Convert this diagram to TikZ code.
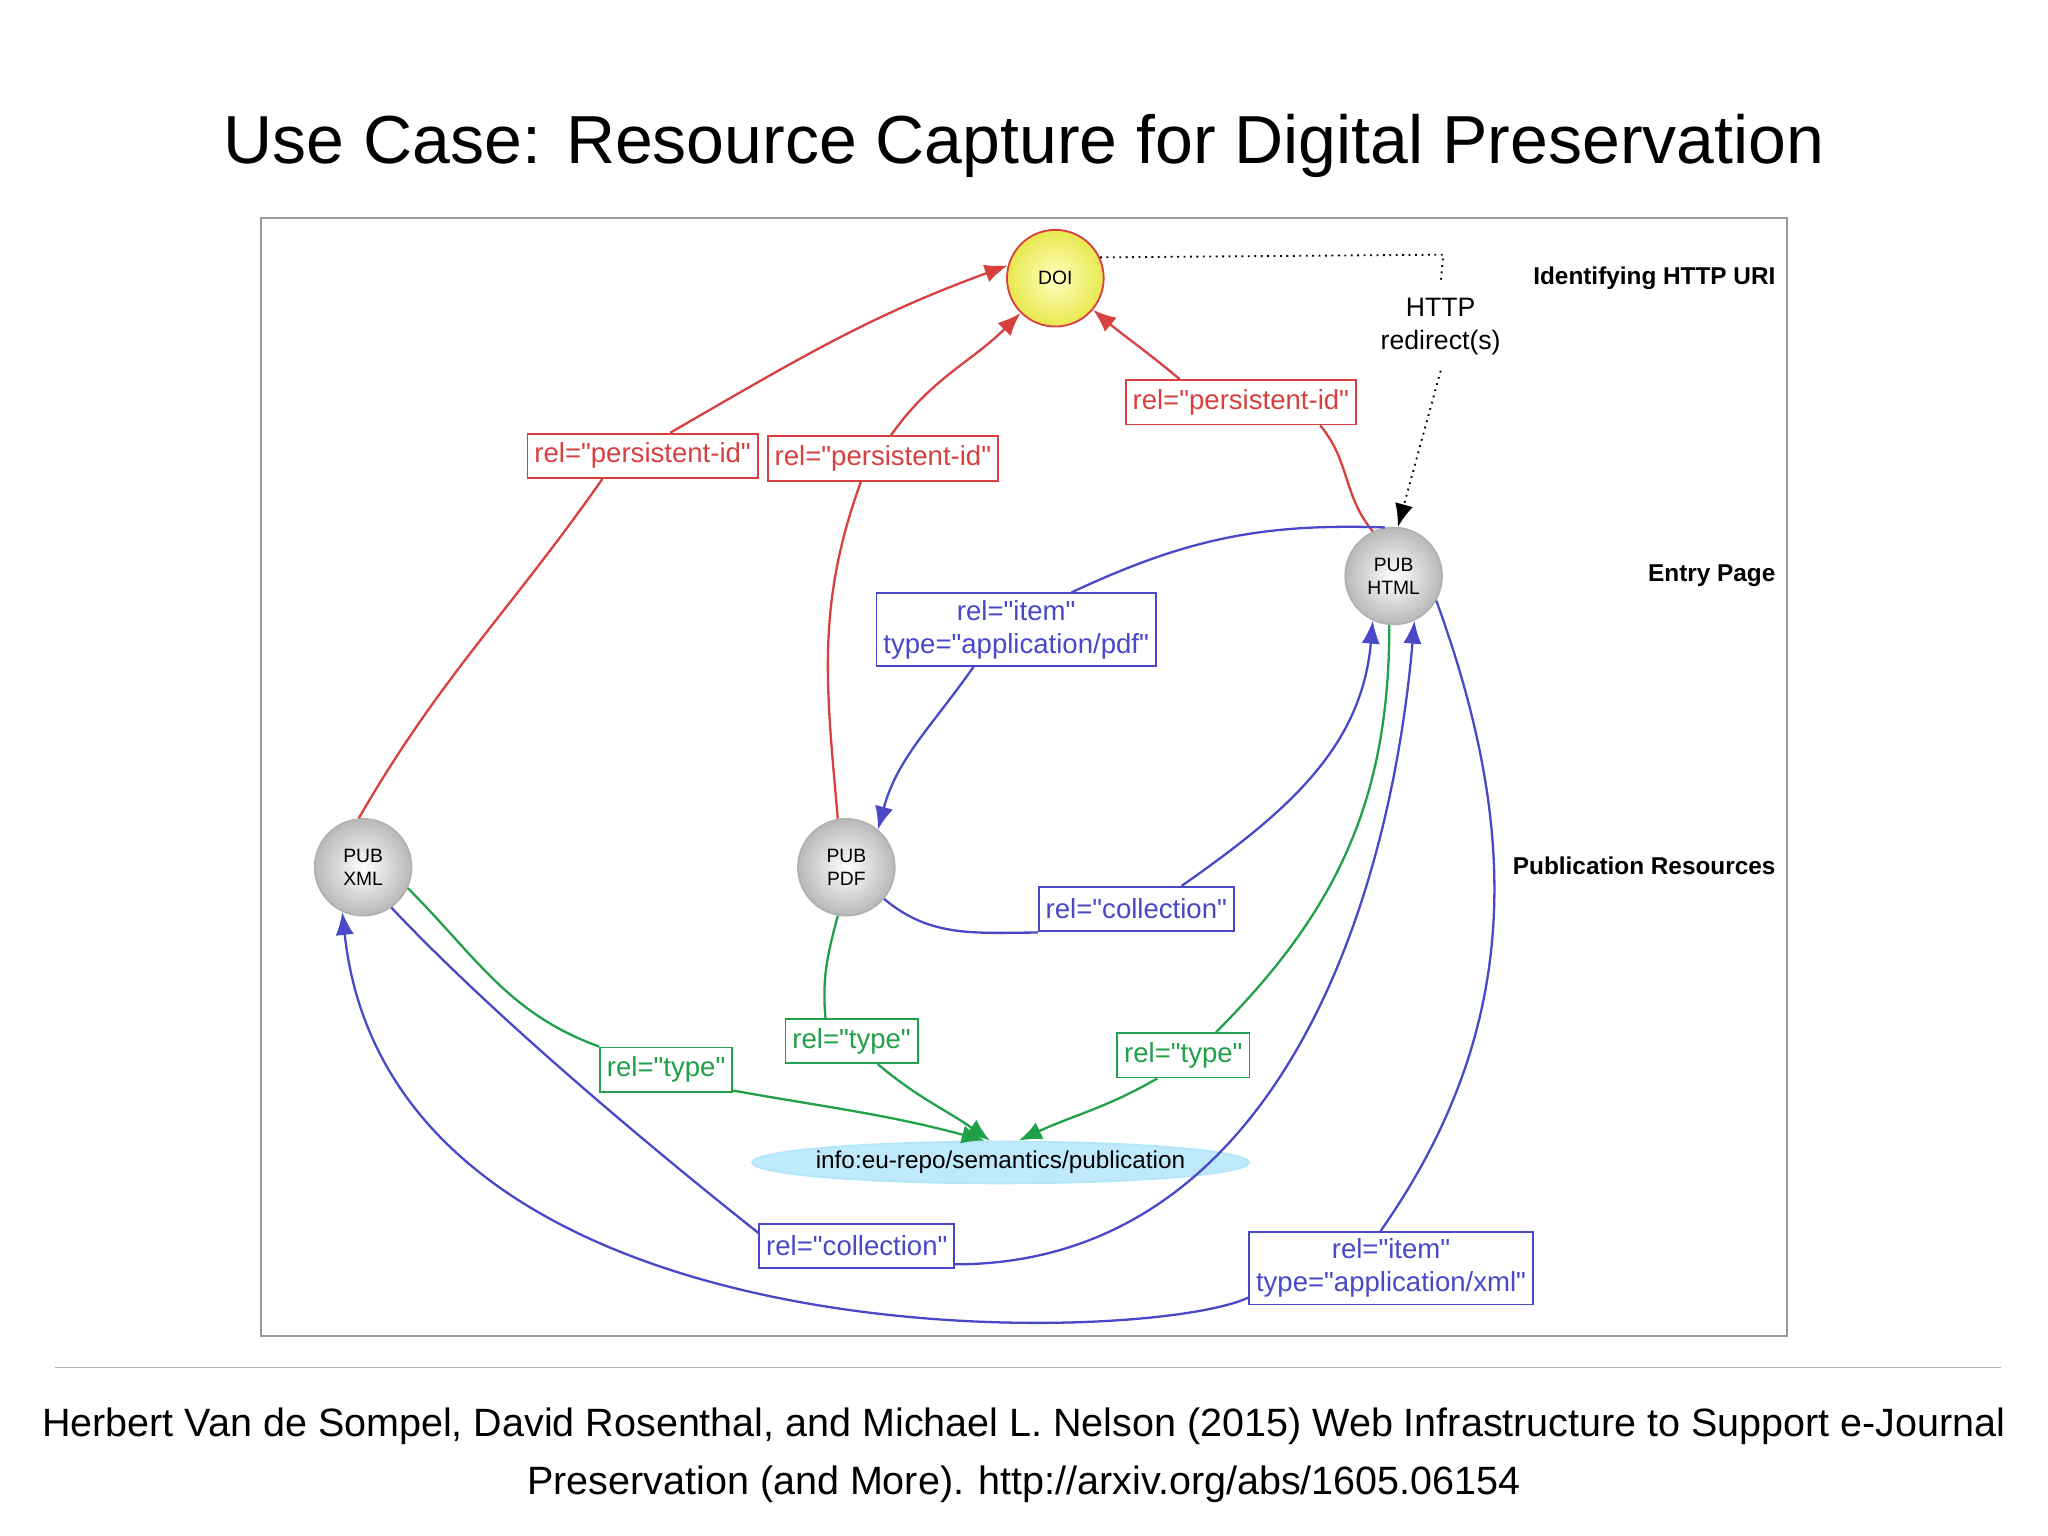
\documentclass[tikz,border=0pt]{standalone}
\usepackage{fontspec}
\setmainfont{Liberation Sans}[Ligatures=TeXOff]
\usetikzlibrary{shapes.geometric,arrows.meta,calc}
\newcommand\qq{\symbol{34}}
\definecolor{cr}{HTML}{D84040}
\definecolor{cb}{HTML}{4848C8}
\definecolor{cg}{HTML}{20A048}
\begin{document}
\begin{tikzpicture}[x=0.01cm,y=-0.01cm,
  res/.style={circle,minimum size=0.74cm,inner sep=0pt,shading=radial,inner color=white,outer color=gray!55,draw=gray!60,align=center,font=\fontsize{4.2}{5}\selectfont},
  lab/.style={draw,fill=white,inner sep=1.5pt,align=center,font=\fontsize{6}{7.2}\selectfont,minimum height=0.34cm},
  rl/.style={lab,draw=cr,text=cr},
  bl/.style={lab,draw=cb,text=cb},
  gl/.style={lab,draw=cg,text=cg},
  side/.style={anchor=east,inner sep=0pt,font=\bfseries\fontsize{5.3}{6.4}\selectfont},
  ar/.style={-{Latex[length=5pt,width=4pt]}},
  r/.style={cr,line width=0.5pt},b/.style={cb,line width=0.5pt},g/.style={cg,line width=0.5pt}]
\useasboundingbox (0,0) rectangle (1568,1176);
\node[font=\fontsize{14.8}{18}\selectfont] (title) at (784,112) {Use Case: Resource Capture for Digital Preservation};
\draw[gray!80] (200,167) rectangle (1368,1023);
\draw[gray!60] (42,1047) -- (1532,1047);
\node[align=center,font=\fontsize{8.6}{12.6}\selectfont] (foot) at (784,1114) {Herbert Van de Sompel, David Rosenthal, and Michael L. Nelson (2015) Web Infrastructure to Support e-Journal\\Preservation (and More). http://arxiv.org/abs/1605.06154};
% nodes
\node[res,inner color=yellow!25,outer color=olive!30!yellow!60,draw=cr] (doi) at (808,213) {DOI};
\node[res] (html) at (1067,441) {PUB\\HTML};
\node[res] (xml) at (278,664) {PUB\\XML};
\node[res] (pdf) at (648,664) {PUB\\PDF};
\node[ellipse,minimum width=3.8cm,minimum height=0.32cm,inner sep=0pt,fill=cyan!25,draw=cyan!30] (pub) at (766,890) {};
\node[font=\fontsize{5.3}{6.4}\selectfont] (pubt) at (pub.center) {info:eu-repo/semantics/publication};
\node[side] (s1) at (1360,213) {Identifying HTTP URI};
\node[side] (s2) at (1360,441) {Entry Page};
\node[side] (s3) at (1360,663) {Publication Resources};
\node[align=center,font=\fontsize{5.8}{7}\selectfont] (redir) at (1103,250) {HTTP\\redirect(s)};
% labels
\node[rl,minimum width=1.64cm] (p1) at (492,349) {rel=\qq persistent-id\qq};
\node[rl,minimum width=1.64cm] (p2) at (676,351) {rel=\qq persistent-id\qq};
\node[rl,minimum width=1.64cm] (p3) at (950,308) {rel=\qq persistent-id\qq};
\node[bl,minimum width=2.12cm] (i1) at (778,482) {rel=\qq item\qq\\type=\qq application/pdf\qq};
\node[bl,minimum width=1.38cm] (c1) at (870,696) {rel=\qq collection\qq};
\node[bl,minimum width=1.40cm] (c2) at (656,954) {rel=\qq collection\qq};
\node[bl,minimum width=2.0cm] (i2) at (1065,971) {rel=\qq item\qq\\type=\qq application/xml\qq};
\node[gl,minimum width=0.98cm] (t1) at (510,819) {rel=\qq type\qq};
\node[gl,minimum width=0.92cm] (t2) at (652,797) {rel=\qq type\qq};
\node[gl,minimum width=0.96cm] (t3) at (906,808) {rel=\qq type\qq};
% dotted redirect
\coordinate (d1) at (1105,195);
\draw[densely dotted] (doi.25) -- (d1) -- (redir.north);
\draw[densely dotted,ar] (redir.south) -- (html.85);
% red
\draw[r] (xml.95) to[out=60,in=235] ($(p1.south west)+(58,0)$);
\draw[r,ar] ($(p1.north west)+(110,0)$) to[out=30,in=200] (doi.165);
\draw[r] (pdf.100) to[out=95,in=250] ($(p2.south west)+(72,0)$);
\draw[r,ar] ($(p2.north west)+(95,0)$) to[out=55,in=225] (doi.225);
\draw[r] (html.115) to[out=130,in=310] ($(p3.south east)+(-28,0)$);
\draw[r,ar] ($(p3.north west)+(42,0)$) to[out=140,in=320] (doi.320);
% blue
\draw[b] (html.100) to[out=178,in=25] ($(i1.north west)+(150,0)$);
\draw[b,ar] ($(i1.south west)+(75,0)$) to[out=235,in=75] (pdf.50);
\draw[b] (pdf.320) to[out=320,in=180] ($(c1.west)+(0,18)$);
\draw[b,ar] ($(c1.north west)+(110,0)$) to[out=35,in=265] (html.245);
\draw[b] (xml.305) .. controls (380,780) and (500,880) .. ($(c2.west)+(0,-10)$);
\draw[b,ar] ($(c2.east)+(0,14)$) to[out=0,in=265] (html.295);
\draw[b] (html.330) to[out=290,in=55] ($(i2.north)+(-8,0)$);
\draw[b,ar] ($(i2.south west)+(0,-6)$) .. controls (880,1030) and (300,1050) .. (xml.245);
% green
\draw[g] (xml.335) to[out=315,in=160] (t1.north west);
\draw[g,ar] ($(t1.east)+(0,16)$) to[out=-10,in=165] ($(pub.north)+(-12,0)$);
\draw[g] (pdf.260) to[out=255,in=95] ($(t2.north)+(-20,0)$);
\draw[g,ar] ($(t2.south)+(20,0)$) to[out=-40,in=145] ($(pub.north)+(-8,0)$);
\draw[g] (html.265) to[out=270,in=45] ($(t3.north)+(25,0)$);
\draw[g,ar] ($(t3.south)+(-20,0)$) to[out=210,in=25] ($(pub.north)+(14,0)$);
\end{tikzpicture}
\end{document}
